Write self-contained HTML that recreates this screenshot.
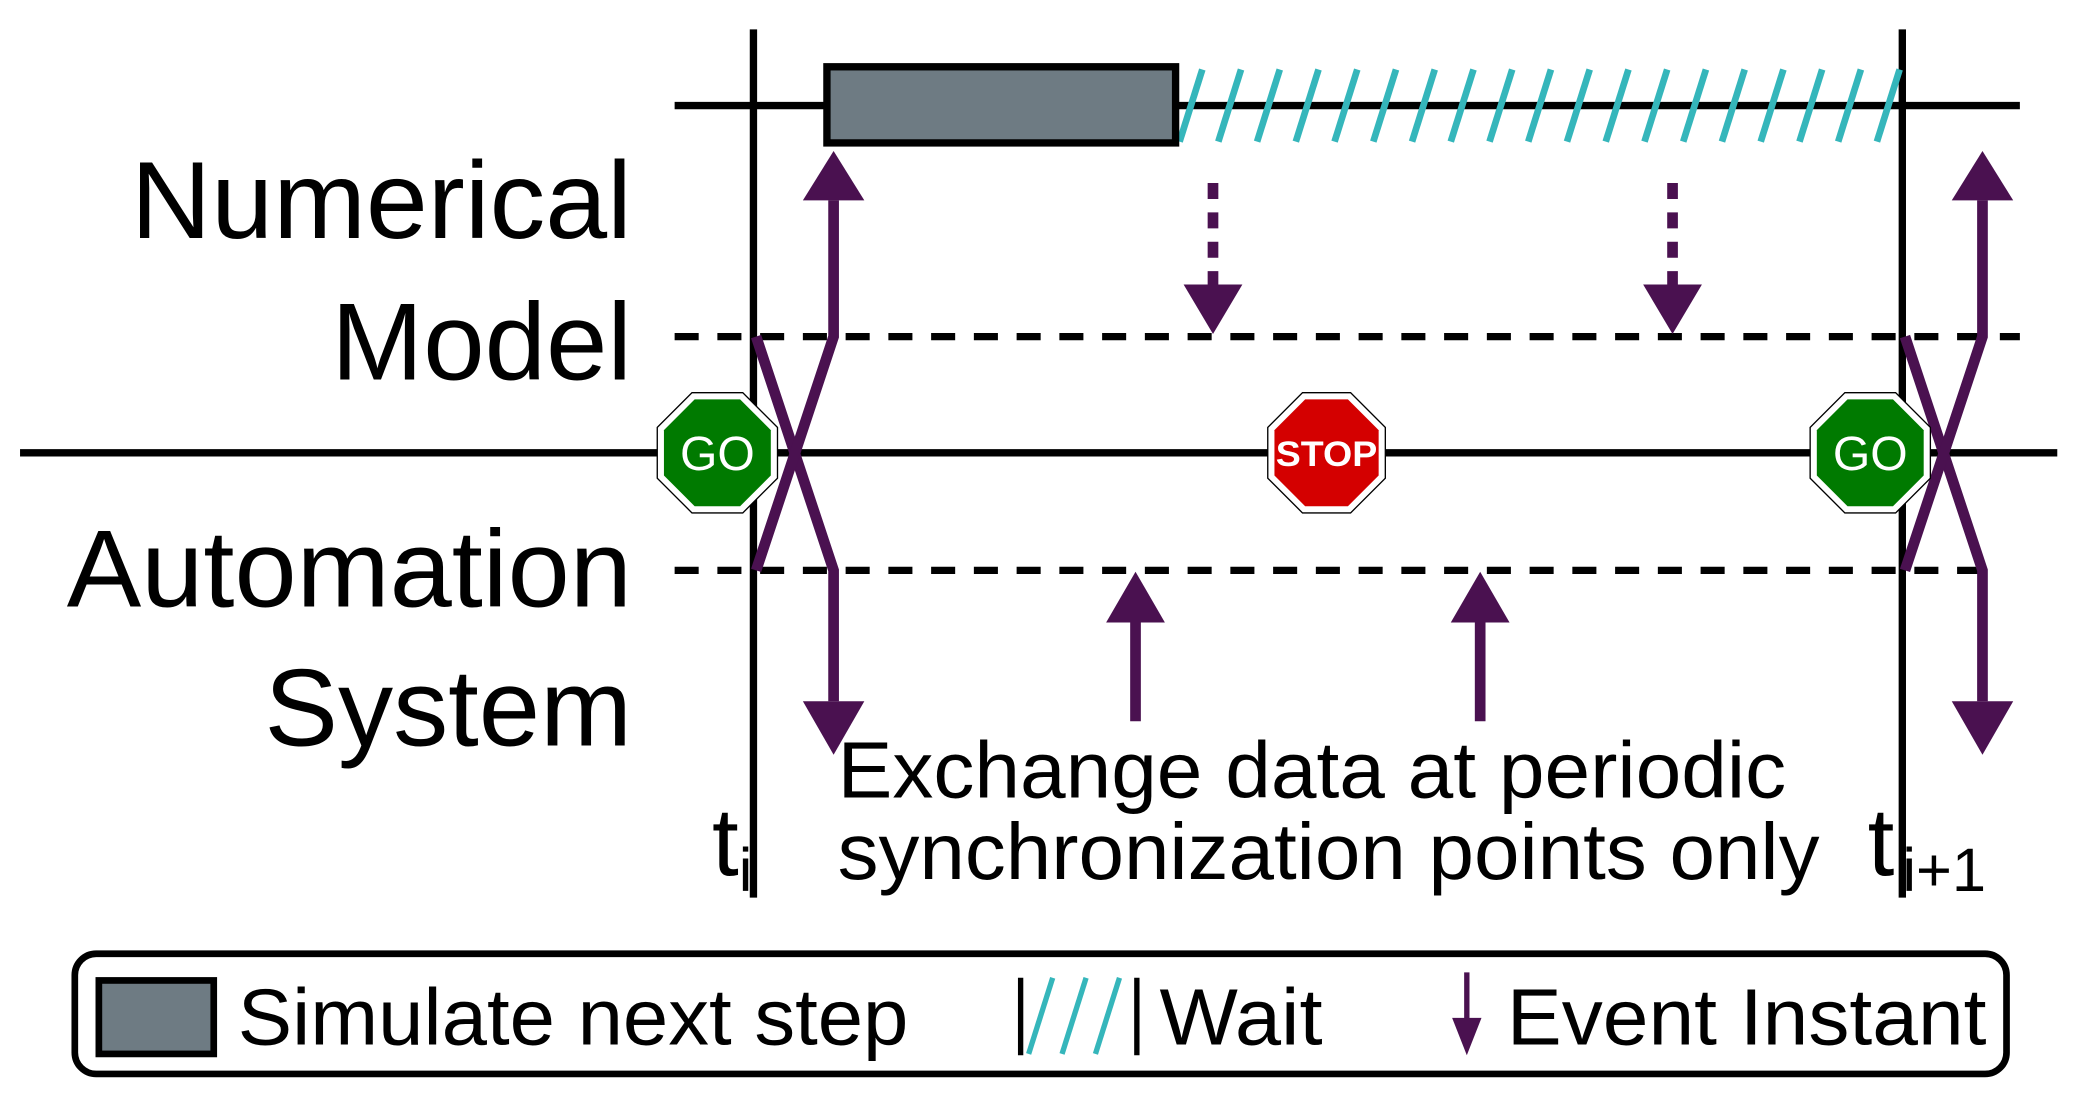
<!DOCTYPE html>
<html><head><meta charset="utf-8"><style>
html,body{margin:0;padding:0;background:#fff;}
svg{display:block;}
text{font-family:"Liberation Sans",sans-serif;}
</style></head><body>
<svg width="2084" height="1102" viewBox="0 0 1560 825" preserveAspectRatio="none" xmlns="http://www.w3.org/2000/svg">
<line x1="505" y1="79" x2="1512" y2="79" stroke="#000" stroke-width="5.5"/>
<line x1="15" y1="339" x2="1540" y2="339" stroke="#000" stroke-width="5.5"/>
<line x1="505" y1="252" x2="1512" y2="252" stroke="#000" stroke-width="5.5" stroke-dasharray="18,14"/>
<line x1="505" y1="427" x2="1497" y2="427" stroke="#000" stroke-width="5.5" stroke-dasharray="18,14"/>
<line x1="564" y1="22" x2="564" y2="672" stroke="#000" stroke-width="5.5"/>
<line x1="1424" y1="22" x2="1424" y2="672" stroke="#000" stroke-width="5.5"/>
<g stroke="#35b6bb" stroke-width="5">
<line x1="883" y1="106" x2="900" y2="52"/><line x1="912" y1="106" x2="929" y2="52"/><line x1="941" y1="106" x2="958" y2="52"/><line x1="970" y1="106" x2="987" y2="52"/><line x1="999" y1="106" x2="1016" y2="52"/><line x1="1028" y1="106" x2="1045" y2="52"/><line x1="1057" y1="106" x2="1074" y2="52"/><line x1="1086" y1="106" x2="1103" y2="52"/><line x1="1115" y1="106" x2="1132" y2="52"/><line x1="1144" y1="106" x2="1161" y2="52"/><line x1="1173" y1="106" x2="1190" y2="52"/><line x1="1202" y1="106" x2="1219" y2="52"/><line x1="1231" y1="106" x2="1248" y2="52"/><line x1="1260" y1="106" x2="1277" y2="52"/><line x1="1289" y1="106" x2="1306" y2="52"/><line x1="1318" y1="106" x2="1335" y2="52"/><line x1="1347" y1="106" x2="1364" y2="52"/><line x1="1376" y1="106" x2="1393" y2="52"/><line x1="1405" y1="106" x2="1422" y2="52"/>
</g>
<rect x="619" y="50" width="261" height="57" fill="#6e7b83" stroke="#000" stroke-width="5.5"/>
<g stroke="#4a1150" stroke-width="8" fill="none">
<polyline points="566,252 624,427 624,525"/>
<polyline points="566,427 624,252 624,150"/>
<polyline points="1426,252 1484,427 1484,525"/>
<polyline points="1426,427 1484,252 1484,150"/>
<line x1="850" y1="540" x2="850" y2="465"/>
<line x1="1108" y1="540" x2="1108" y2="465"/>
<line x1="908" y1="137" x2="908" y2="215" stroke-dasharray="12,10"/>
<line x1="1252" y1="137" x2="1252" y2="215" stroke-dasharray="12,10"/>
</g>
<g fill="#4a1150">
<polygon points="624,113 601,150 647,150"/>
<polygon points="624,565 601,525 647,525"/>
<polygon points="1484,113 1461,150 1507,150"/>
<polygon points="1484,565 1461,525 1507,525"/>
<polygon points="850,428 828,466 872,466"/>
<polygon points="1108,428 1086,466 1130,466"/>
<polygon points="908,250 886,213 930,213"/>
<polygon points="1252,250 1230,213 1274,213"/>
</g>
<g stroke="#000" stroke-width="1">
<polygon points="518,294 556,294 582,320 582,358 556,384 518,384 492,358 492,320" fill="#fff"/>
<polygon points="520,299 554,299 577,322 577,356 554,379 520,379 497,356 497,322" fill="#007a00" stroke="none"/>
<polygon points="975,294 1011,294 1037,320 1037,358 1011,384 975,384 949,358 949,320" fill="#fff"/>
<polygon points="977,299 1009,299 1032,322 1032,356 1009,379 977,379 954,356 954,322" fill="#d40000" stroke="none"/>
<polygon points="1381,294 1419,294 1445,320 1445,358 1419,384 1381,384 1355,358 1355,320" fill="#fff"/>
<polygon points="1383,299 1417,299 1440,322 1440,356 1417,379 1383,379 1360,356 1360,322" fill="#007a00" stroke="none"/>
</g>
<text x="537" y="352" font-size="36" fill="#fff" text-anchor="middle">GO</text>
<text x="993" y="349" font-size="26" font-weight="bold" fill="#fff" text-anchor="middle" textLength="76" lengthAdjust="spacingAndGlyphs">STOP</text>
<text x="1400" y="352" font-size="36" fill="#fff" text-anchor="middle">GO</text>
<g font-size="82" fill="#000">
<text x="98" y="178" textLength="375" lengthAdjust="spacingAndGlyphs">Numerical</text>
<text x="248" y="284" textLength="225" lengthAdjust="spacingAndGlyphs">Model</text>
<text x="50" y="454" textLength="423" lengthAdjust="spacingAndGlyphs">Automation</text>
<text x="198" y="558" textLength="275" lengthAdjust="spacingAndGlyphs">System</text>
</g>
<text x="533" y="655" font-size="72">t<tspan font-size="46" dy="12">i</tspan></text>
<text x="1398" y="655" font-size="72">t<tspan font-size="46" dy="12" dx="6">i+1</tspan></text>
<text x="627" y="597" font-size="60" textLength="710" lengthAdjust="spacingAndGlyphs">Exchange data at periodic</text>
<text x="627" y="658" font-size="60" textLength="735" lengthAdjust="spacingAndGlyphs">synchronization points only</text>
<rect x="56" y="714" width="1446" height="90" rx="16" fill="#fff" stroke="#000" stroke-width="5"/>
<rect x="74" y="734" width="86" height="55" fill="#6e7b83" stroke="#000" stroke-width="5"/>
<text x="178" y="782" font-size="60" textLength="502" lengthAdjust="spacingAndGlyphs">Simulate next step</text>
<line x1="764" y1="732" x2="764" y2="790" stroke="#000" stroke-width="4"/>
<line x1="851" y1="732" x2="851" y2="790" stroke="#000" stroke-width="4"/>
<g stroke="#35b6bb" stroke-width="4">
<line x1="770" y1="789" x2="788" y2="732"/><line x1="795" y1="789" x2="813" y2="732"/><line x1="820" y1="789" x2="838" y2="732"/>
</g>
<text x="868" y="782" font-size="60" textLength="122" lengthAdjust="spacingAndGlyphs">Wait</text>
<line x1="1098" y1="728" x2="1098" y2="765" stroke="#4a1150" stroke-width="4"/>
<polygon points="1098,790 1087,762 1109,762" fill="#4a1150"/>
<text x="1128" y="782" font-size="60" textLength="359" lengthAdjust="spacingAndGlyphs">Event Instant</text>
</svg>
</body></html>
